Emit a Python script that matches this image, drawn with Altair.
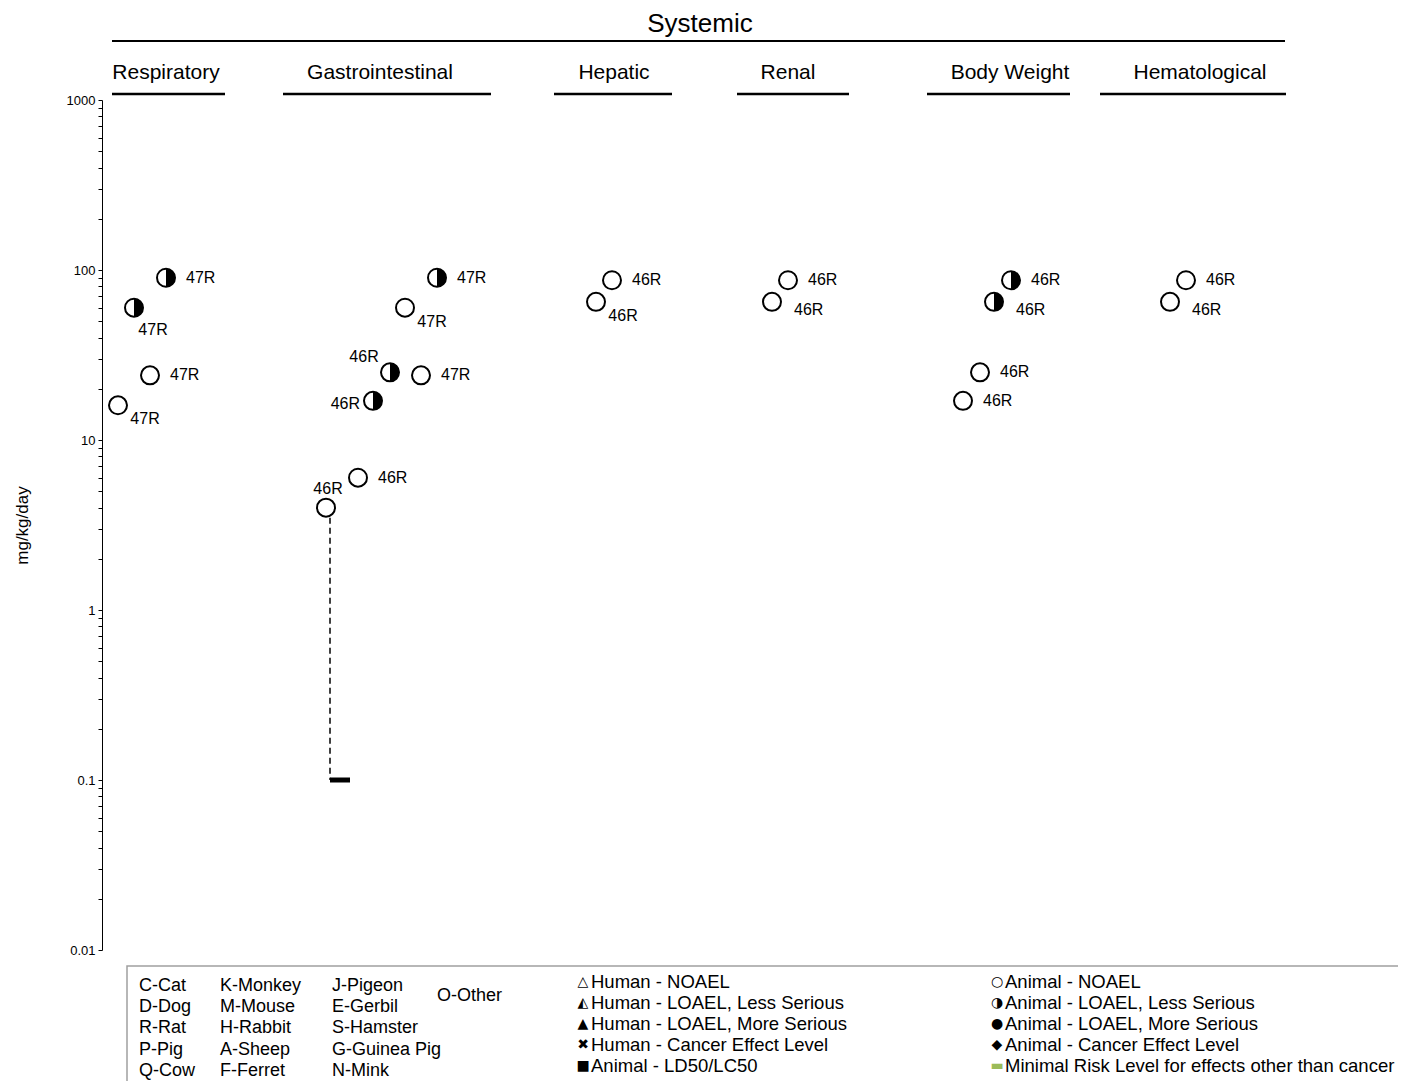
import altair as alt
import pandas as pd

# ---------------- data ----------------
systemic_title = "Systemic"
systemic_span = [1.0, 118.3]
systemic_label_at = [59.8]

groups = ["Respiratory", "Gastrointestinal", "Hepatic", "Renal", "Body Weight", "Hematological"]
group_start = [1.0, 18.1, 45.2, 63.5, 82.5, 99.8]
group_end = [12.3, 38.9, 57.0, 74.7, 96.8, 118.4]
group_label_at = [6.4, 27.8, 51.2, 68.6, 90.8, 109.8]

pt_group = (["Respiratory"] * 4 + ["Gastrointestinal"] * 7 + ["Hepatic"] * 2
            + ["Renal"] * 2 + ["Body Weight"] * 4 + ["Hematological"] * 2)
pt_x = [6.4, 3.2, 4.8, 1.6,
        22.4, 25.6, 27.1, 28.8, 31.9, 30.3, 33.5,
        51.0, 49.4,
        68.6, 67.0,
        90.9, 89.2, 87.8, 86.1,
        108.4, 106.8]
pt_value = [90, 60, 24, 16,
            4, 6, 17, 25, 24, 60, 90,
            87, 65,
            87, 65,
            87, 65, 25, 17,
            87, 65]
pt_effect = ["LOAEL-LS", "LOAEL-LS", "NOAEL", "NOAEL",
             "NOAEL", "NOAEL", "LOAEL-LS", "LOAEL-LS", "NOAEL", "NOAEL", "LOAEL-LS",
             "NOAEL", "NOAEL",
             "NOAEL", "NOAEL",
             "LOAEL-LS", "LOAEL-LS", "NOAEL", "NOAEL",
             "NOAEL", "NOAEL"]
pt_label = ["47R"] * 4 + ["46R"] * 4 + ["47R"] * 3 + ["46R"] * 10
pt_label_side = ["r", "b", "r", "br",
                 "a", "r", "l", "al", "r", "br", "r",
                 "r", "br",
                 "r", "lr",
                 "r", "lr", "r", "r",
                 "r", "lr"]

range_x = [22.8]
range_top = [4]
range_bottom = [0.1]

bar_x = [22.8]
bar_value = [0.1]

y_title = "mg/kg/day"
decades = [0.01, 0.1, 1, 10, 100, 1000]
decade_labels = ["0.01", "0.1", "1", "10", "100", "1000"]

species_cols = [
    ["C-Cat", "D-Dog", "R-Rat", "P-Pig", "Q-Cow"],
    ["K-Monkey", "M-Mouse", "H-Rabbit", "A-Sheep", "F-Ferret"],
    ["J-Pigeon", "E-Gerbil", "S-Hamster", "G-Guinea Pig", "N-Mink"],
    ["O-Other"],
]
human_symbols = ["△", "◭", "▲", "✖", "■"]
human_labels = ["Human - NOAEL", "Human - LOAEL, Less Serious", "Human - LOAEL, More Serious",
                "Human - Cancer Effect Level", "Animal - LD50/LC50"]
animal_symbols = ["○", "◑", "●", "◆", "▬"]
animal_labels = ["Animal - NOAEL", "Animal - LOAEL, Less Serious", "Animal - LOAEL, More Serious",
                 "Animal - Cancer Effect Level", "Minimal Risk Level for effects other than cancer"]
animal_symbol_colors = ["black", "black", "black", "black", "#9bbb59"]

# ---------------- layout ----------------
W, H = 1200, 850
FONT = "Liberation Sans"

pts = pd.DataFrame({"group": pt_group, "x": pt_x, "value": pt_value, "effect": pt_effect,
                    "label": pt_label, "side": pt_label_side})
grp = pd.DataFrame({"group": groups, "x0": group_start, "x1": group_end, "cx": group_label_at})
sysdf = pd.DataFrame({"t": [systemic_title], "x0": [systemic_span[0]], "x1": [systemic_span[1]],
                      "cx": systemic_label_at})
rng = pd.DataFrame({"x": range_x, "top": range_top, "bottom": range_bottom})
bar = pd.DataFrame({"x": bar_x, "value": bar_value})

xs = alt.Scale(domain=[0, 120], nice=False, zero=False)
ys = alt.Scale(type="log", domain=[0.01, 1000], nice=False)

tick_values = [d * m for d in decades[:-1] for m in range(1, 10)] + [decades[-1]]
label_list = "[" + ",".join("'%s'" % s for s in decade_labels) + "]"

yaxis = alt.Axis(values=tick_values, format="~g",
                 labelExpr="indexof(%s, datum.label) >= 0 ? datum.label : ''" % label_list,
                 grid=False, domainColor="black", domainWidth=1, tickColor="black",
                 tickSize=4, tickWidth=1, labelColor="black", labelFontSize=13,
                 labelFont=FONT, labelPadding=3, title=y_title, titleFont=FONT,
                 titleFontSize=17, titleFontWeight="normal", titleColor="black",
                 titleX=-80, titleY=H / 2, titleAngle=-90, titleAlign="center",
                 titleBaseline="middle")

X = alt.X("x:Q", scale=xs, axis=None)
Y = alt.Y("value:Q", scale=ys, axis=yaxis)

# range dashed line
range_line = alt.Chart(rng).mark_rule(color="black", strokeWidth=1.5, strokeDash=[6, 4]).encode(
    x=alt.X("x:Q", scale=xs, axis=None),
    y=alt.Y("top:Q", scale=ys, axis=yaxis),
    y2="bottom:Q",
)
bar_mark = alt.Chart(bar).mark_point(shape="M0,-0.25H2V0.25H0Z", filled=True, color="black",
                                     opacity=1, size=400, strokeWidth=0).encode(x=X, y=Y)

circles = alt.Chart(pts).mark_point(shape="circle", fill="white", stroke="black", strokeWidth=2,
                                    size=324, opacity=1, fillOpacity=1).encode(x=X, y=Y)
halves = alt.Chart(pts).transform_filter(alt.datum.effect == "LOAEL-LS").mark_point(
    shape="M0,-1A1,1 0 0 1 0,1Z", filled=True, color="black", opacity=1, size=324,
    strokeWidth=0).encode(x=X, y=Y)

label_styles = {
    "r": dict(align="left", dx=20, dy=0),
    "b": dict(align="center", dx=19, dy=22),
    "br": dict(align="center", dx=27, dy=14),
    "lr": dict(align="left", dx=22, dy=8),
    "a": dict(align="center", dx=2, dy=-19),
    "al": dict(align="center", dx=-26, dy=-15),
    "l": dict(align="right", dx=-13, dy=3),
}
label_layers = []
for side, st in label_styles.items():
    label_layers.append(
        alt.Chart(pts).transform_filter(alt.datum.side == side).mark_text(
            font=FONT, fontSize=16, color="black", baseline="middle", **st
        ).encode(x=X, y=Y, text="label:N")
    )

# headers
sys_line = alt.Chart(sysdf).mark_rule(color="black", strokeWidth=2).encode(
    x=alt.X("x0:Q", scale=xs, axis=None), x2="x1:Q", y=alt.value(-59))
sys_text = alt.Chart(sysdf).mark_text(font=FONT, fontSize=26, color="black",
                                      baseline="alphabetic", align="center").encode(
    x=alt.X("cx:Q", scale=xs, axis=None), y=alt.value(-68), text="t:N")
grp_line = alt.Chart(grp).mark_rule(color="black", strokeWidth=2.3).encode(
    x=alt.X("x0:Q", scale=xs, axis=None), x2="x1:Q", y=alt.value(-6))
grp_text = alt.Chart(grp).mark_text(font=FONT, fontSize=21, color="black",
                                    baseline="alphabetic", align="center").encode(
    x=alt.X("cx:Q", scale=xs, axis=None), y=alt.value(-21), text="group:N")

# legend box
box = alt.Chart(pd.DataFrame({"k": [0]})).mark_rect(fill="white", stroke="#a0a0a0",
                                                    strokeWidth=1.5).encode(
    x=alt.value(25), x2=alt.value(1330), y=alt.value(866), y2=alt.value(1020))

col_x = [37, 118, 230, 335]
rows_sp = []
for ci, col in enumerate(species_cols):
    for ri, name in enumerate(col):
        py = 896 if ci == 3 else 886 + ri * 21.2
        rows_sp.append({"t": name, "px": col_x[ci], "py": py})
sp_df = pd.DataFrame(rows_sp)
sp_text = alt.Chart(sp_df).mark_text(font=FONT, fontSize=18, color="black", align="left",
                                     baseline="middle").encode(
    x=alt.X("px:Q", scale=None, axis=None), y=alt.Y("py:Q", scale=None, axis=None), text="t:N")

leg_rows = []
for i, (s, t) in enumerate(zip(human_symbols, human_labels)):
    leg_rows.append({"s": s, "t": t, "sx": 481, "tx": 489, "py": 882 + i * 21, "c": "black"})
for i, (s, t, c) in enumerate(zip(animal_symbols, animal_labels, animal_symbol_colors)):
    leg_rows.append({"s": s, "t": t, "sx": 895, "tx": 903, "py": 882 + i * 21, "c": c})
leg_df = pd.DataFrame(leg_rows)
leg_sym = alt.Chart(leg_df).mark_text(font="DejaVu Sans", fontSize=14, align="center",
                                      baseline="middle").encode(
    x=alt.X("sx:Q", scale=None, axis=None), y=alt.Y("py:Q", scale=None, axis=None),
    text="s:N", color=alt.Color("c:N", scale=None, legend=None))
leg_text = alt.Chart(leg_df).mark_text(font=FONT, fontSize=18.5, color="black", align="left",
                                       baseline="middle").encode(
    x=alt.X("tx:Q", scale=None, axis=None), y=alt.Y("py:Q", scale=None, axis=None), text="t:N")

chart = alt.layer(
    range_line, bar_mark, circles, halves, *label_layers,
    sys_line, sys_text, grp_line, grp_text,
    box, sp_text, leg_sym, leg_text,
).properties(
    width=W, height=H,
    autosize=alt.AutoSizeParams(type="none"),
    padding={"left": 94, "top": 92, "right": 96, "bottom": 131},
).configure(font=FONT, view=alt.ViewConfig(stroke=None))

chart.save("out.html", embed_options={"renderer": "svg", "actions": False})
